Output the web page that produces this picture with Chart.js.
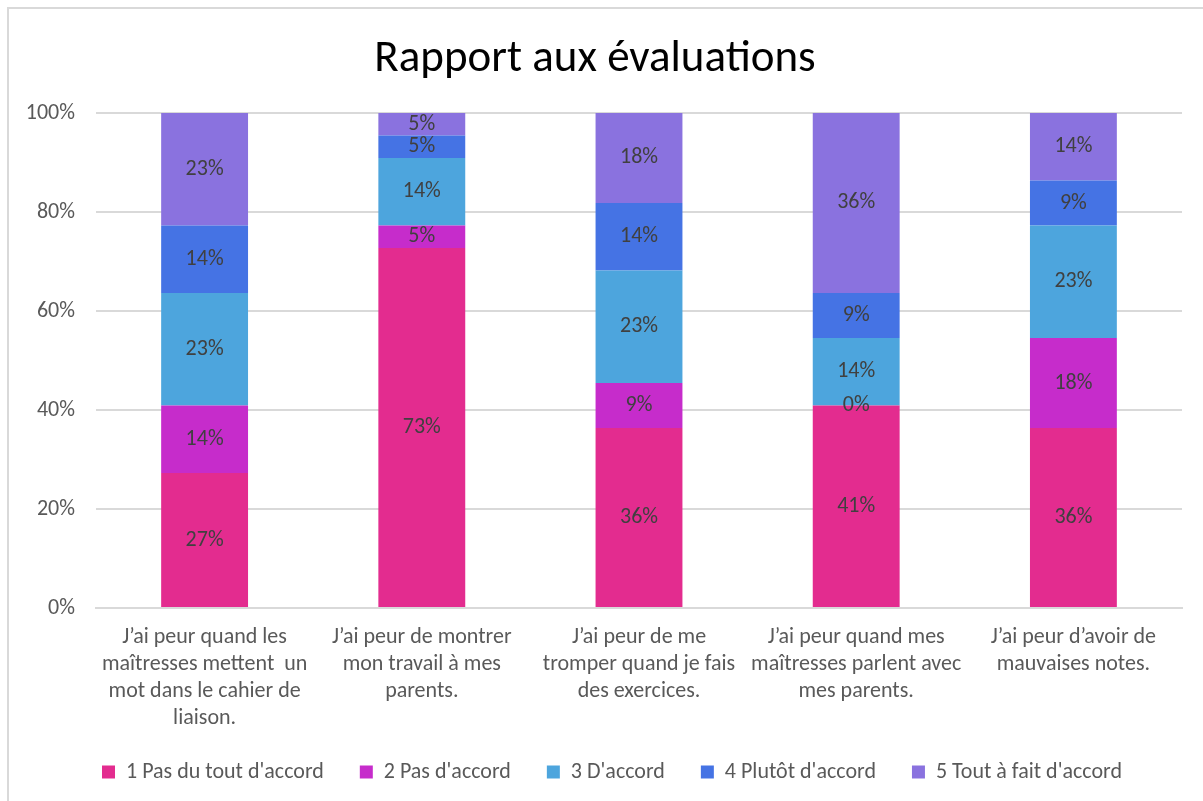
<!DOCTYPE html>
<html>
<head>
<meta charset="utf-8">
<script src="https://cdn.jsdelivr.net/npm/chart.js@4.4.0/dist/chart.umd.min.js"></script>
<style>
  html, body { margin: 0; padding: 0; background: #fff; }
  #wrap { position: absolute; left: 0; top: 0; width: 1203px; height: 801px; }
  #frame { position: absolute; left: 7px; top: 7px; width: 1220px; height: 820px; border: 2px solid #d9d9d9; box-sizing: border-box; pointer-events: none; }
</style>
</head>
<body>
<div id="wrap">
  <canvas id="c" width="1203" height="801"></canvas>
  <div id="frame"></div>
</div>
<script>
const categories = [
  ["J\u2019ai peur quand les", "ma\u00eetresses mettent  un", "mot dans le cahier de", "liaison."],
  ["J\u2019ai peur de montrer", "mon travail \u00e0 mes", "parents."],
  ["J\u2019ai peur de me", "tromper quand je fais", "des exercices."],
  ["J\u2019ai peur quand mes", "ma\u00eetresses parlent avec", "mes parents."],
  ["J\u2019ai peur d\u2019avoir de", "mauvaises notes."]
];
const seriesNames = ["1 Pas du tout d'accord", "2 Pas d'accord", "3 D'accord", "4 Plut\u00f4t d'accord", "5 Tout \u00e0 fait d'accord"];
const s1 = [27.27, 72.73, 36.36, 40.91, 36.36];
const s2 = [13.64, 4.55, 9.09, 0, 18.18];
const s3 = [22.73, 13.64, 22.73, 13.64, 22.73];
const s4 = [13.64, 4.55, 13.64, 9.09, 9.09];
const s5 = [22.73, 4.55, 18.18, 36.36, 13.64];
const yTicks = [0, 20, 40, 60, 80, 100];
const colors = ["#E32C8F", "#C62CCB", "#4DA5DD", "#4573E4", "#8A72DF"];

const FONT = "Carlito, Lato, 'Liberation Sans', sans-serif";

const dataLabels = {
  id: 'dataLabels',
  afterLayout(chart) {
    // let the multi-line category labels extend below the axis box without clipping
    chart.scales.x.bottom = chart.height;
    // shift the legend row slightly right, as in the reference
    chart.legend.left += 17;
    chart.legend.right += 17;
  },
  afterDatasetsDraw(chart) {
    const ctx = chart.ctx;
    ctx.save();
    ctx.font = "22px " + FONT;
    ctx.fillStyle = "#404040";
    ctx.textAlign = "center";
    ctx.textBaseline = "middle";
    chart.data.datasets.forEach((ds, i) => {
      const meta = chart.getDatasetMeta(i);
      meta.data.forEach((bar, j) => {
        const v = ds.data[j];
        const y = (bar.y + bar.base) / 2;
        ctx.fillText(Math.round(v) + "%", bar.x, y);
      });
    });
    ctx.restore();
  }
};

const allSeries = [s1, s2, s3, s4, s5];
new Chart(document.getElementById('c'), {
  type: 'bar',
  data: {
    labels: categories,
    datasets: allSeries.map((d, i) => ({
      label: seriesNames[i],
      data: d,
      backgroundColor: colors[i],
      borderWidth: 0,
      categoryPercentage: 1,
      barPercentage: 0.4
    }))
  },
  options: {
    responsive: false,
    animation: false,
    layout: { padding: { left: 8, right: 21, top: 8, bottom: 8 } },
    plugins: {
      title: {
        display: true,
        text: "Rapport aux \u00e9valuations",
        color: "#000",
        font: { family: FONT, size: 45, weight: 'normal' },
        padding: { top: 25, bottom: 26 }
      },
      legend: {
        position: 'bottom',
        labels: {
          boxWidth: 13, boxHeight: 13,
          color: "#595959",
          font: { family: FONT, size: 22 },
          padding: 36
        }
      },
      tooltip: { enabled: false }
    },
    scales: {
      x: {
        stacked: true,
        afterFit(scale) { scale.height = 117; },
        grid: { display: false, drawTicks: false },
        border: { display: true, color: "#d9d9d9", width: 2 },
        ticks: {
          color: "#595959",
          font: { family: FONT, size: 22, lineHeight: 1.23 },
          padding: 16,
          maxRotation: 0, minRotation: 0, autoSkip: false
        }
      },
      y: {
        stacked: true,
        min: 0, max: 100,
        afterFit(scale) { scale.width = 88; },
        afterBuildTicks(scale) { scale.ticks = yTicks.map(v => ({ value: v })); },
        grid: { color: "#d9d9d9", lineWidth: 2, drawTicks: false },
        border: { display: false },
        ticks: {
          color: "#595959",
          font: { family: FONT, size: 22 },
          padding: 21,
          callback: v => v + "%"
        }
      }
    }
  },
  plugins: [dataLabels]
});
</script>
</body>
</html>
